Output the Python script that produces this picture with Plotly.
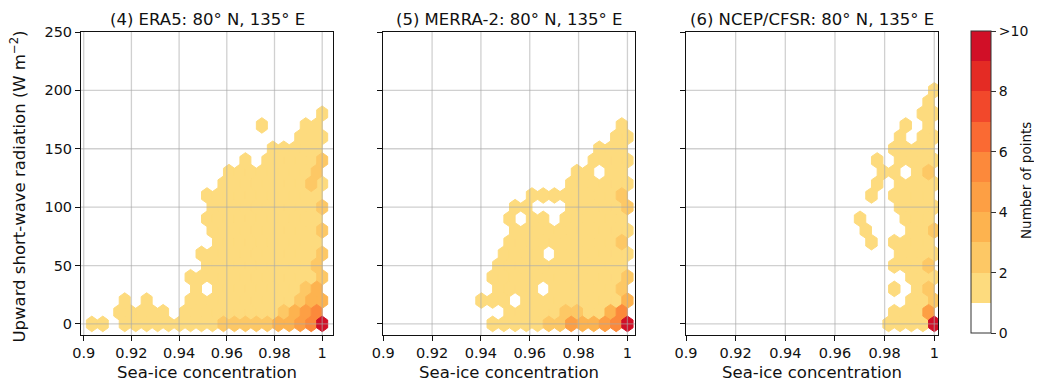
import plotly.graph_objects as go

# ---------------- data ----------------
# hexbin lattice: hex width in sea-ice concentration and lattice period in W m-2
HEX_SX = 0.0046
HEX_SY = 20.0

X_TICKS = [0.9, 0.92, 0.94, 0.96, 0.98, 1.0]
X_TICKTEXT = ["0.9", "0.92", "0.94", "0.96", "0.98", "1"]
Y_TICKS = [0, 50, 100, 150, 200, 250]
CB_TICKS = [0, 2, 4, 6, 8, 10]
CB_TICKTEXT = ["0", "2", "4", "6", "8", ">10"]

PANEL_TITLES = ["(4) ERA5: 80° N, 135° E",
                "(5) MERRA-2: 80° N, 135° E",
                "(6) NCEP/CFSR: 80° N, 135° E"]
X_LABEL = "Sea-ice concentration"
Y_LABEL = "Upward short-wave radiation (W m<sup>−2</sup>)"
CB_LABEL = "Number of points"

# cells: (half-column index k counted leftwards from SIC=1, first row, last row)
# rows are counted in half lattice periods (row r -> r*10 W m-2)
ERA5_COLS = [(0, 0, 18), (1, 1, 17), (2, 0, 16), (3, 1, 17), (4, 0, 16), (5, 1, 15),
             (6, 0, 14), (7, 1, 15), (8, 0, 14), (9, 1, 15), (10, 0, 14), (11, 1, 13),
             (11, 17, 17), (12, 0, 12), (13, 1, 13), (14, 0, 14), (15, 1, 13),
             (16, 0, 12), (17, 1, 13), (18, 0, 12), (19, 1, 11), (20, 0, 10),
             (21, 1, 1), (21, 5, 5), (21, 9, 11), (22, 0, 6), (23, 1, 3), (24, 0, 4),
             (25, 1, 1), (26, 0, 0), (28, 0, 0), (29, 1, 1), (30, 0, 0), (31, 1, 1),
             (32, 0, 2), (33, 1, 1), (34, 0, 0), (35, 1, 1), (36, 0, 2), (37, 1, 1),
             (40, 0, 0), (42, 0, 0)]
ERA5_HOLES = []
ERA5_COUNTS = [(0, 0, 11), (1, 1, 5), (2, 0, 5), (0, 2, 3), (1, 3, 3), (2, 2, 3),
               (3, 1, 4), (4, 0, 4), (4, 2, 2), (5, 1, 3), (6, 0, 3), (8, 0, 3),
               (10, 0, 2), (12, 0, 2), (14, 0, 2), (16, 0, 2), (18, 0, 2), (7, 1, 2),
               (0, 4, 2), (0, 6, 2), (0, 8, 2), (0, 10, 2), (0, 14, 2), (1, 13, 2),
               (2, 12, 2), (1, 5, 2), (3, 3, 2)]

MERRA_COLS = [(0, 0, 16), (1, 1, 17), (2, 0, 16), (3, 1, 15), (4, 0, 14), (5, 1, 15),
              (6, 0, 14), (7, 1, 13), (8, 0, 12), (9, 1, 13), (10, 0, 12), (11, 1, 11),
              (12, 0, 8), (13, 1, 7), (13, 11, 11), (14, 0, 8), (15, 1, 11), (16, 0, 8),
              (17, 1, 11), (18, 0, 10), (19, 1, 7), (20, 0, 0), (20, 4, 10), (21, 1, 9),
              (22, 0, 6), (23, 3, 5), (24, 0, 4), (26, 2, 2)]
MERRA_HOLES = [(5, 13), (15, 3), (14, 6)]
MERRA_COUNTS = [(0, 0, 11), (1, 1, 5), (2, 0, 5), (0, 2, 3), (1, 3, 2), (3, 1, 3),
                (4, 0, 4), (6, 0, 3), (8, 0, 3), (10, 0, 4), (12, 0, 2), (14, 0, 2),
                (9, 1, 2), (11, 1, 2), (0, 4, 2), (1, 7, 2), (0, 10, 2), (1, 11, 2)]

CFSR_COLS = [(0, 0, 20), (1, 1, 19), (2, 0, 18), (3, 1, 15), (4, 0, 14), (5, 1, 17),
             (6, 0, 16), (7, 1, 15), (8, 0, 0), (9, 13, 13), (10, 12, 14),
             (11, 7, 7), (11, 11, 11), (12, 8, 8), (13, 9, 9)]
CFSR_HOLES = [(5, 3), (6, 2), (6, 4), (7, 9), (6, 8), (5, 13)]
CFSR_COUNTS = [(0, 0, 11), (1, 1, 4), (0, 2, 2), (1, 3, 2), (1, 5, 2), (0, 8, 2),
               (1, 13, 2)]

# colour of each count bin 1..9 (9 and more share the last colour)
BIN_COLORS = ["#FDDB7E", "#FDC865", "#FDB34F", "#FD9F44", "#FC893B",
              "#FA6A33", "#F2482B", "#E42B24", "#D10F27"]

PANELS = [(ERA5_COLS, ERA5_HOLES, ERA5_COUNTS),
          (MERRA_COLS, MERRA_HOLES, MERRA_COUNTS),
          (CFSR_COLS, CFSR_HOLES, CFSR_COUNTS)]
X_RANGES = [[0.89887, 1.00453], [0.8999, 1.0031], [0.9, 1.0015]]
Y_RANGE = [-9.5, 250]

# ---------------- figure ----------------
# the page adds an 8 px body margin, so the figure is laid out 8 px up/left
OFF = 8
W, H = 1042 - OFF, 383 - OFF
PL, PR, PT, PB = 81 - OFF, 938 - OFF, 32 - OFF, 335 - OFF   # plot area in figure px
ML, MR, MT, MB = PL, W - PR, PT, H - PB
PW = PR - PL
PH = PB - PT
DOMAINS = [[0, 252 / PW], [(383 - 81) / PW, (635 - 81) / PW], [(686 - 81) / PW, 1.0]]
FONT = "DejaVu Sans"
GRID = "rgba(170,170,170,0.55)"
INK = "#111111"


def build_cells(cols, holes, counts):
    hole_set = set(holes)
    cnt = {(k, r): n for k, r, n in counts}
    out = []
    for k, lo, hi in cols:
        for r in range(lo, hi + 1, 2):
            if (k, r) in hole_set:
                continue
            out.append((1.0 - k * HEX_SX / 2, r * HEX_SY / 2, cnt.get((k, r), 1)))
    return out


def hex_path(cx, cy):
    hw, v, s = HEX_SX / 2, HEX_SY / 3, HEX_SY / 6
    xs = [cx + hw, cx + hw, cx, cx - hw, cx - hw, cx, cx + hw, None]
    ys = [cy - s, cy + s, cy + v, cy + s, cy - s, cy - v, cy - s, None]
    return xs, ys


fig = go.Figure()
for p, (cols, holes, counts) in enumerate(PANELS):
    cells = build_cells(cols, holes, counts)
    ax = "" if p == 0 else str(p + 1)
    for b in range(1, 10):
        sel = [c for c in cells if min(c[2], 9) == b]
        if not sel:
            continue
        xs, ys = [], []
        for cx, cy, _ in sel:
            hx, hy = hex_path(cx, cy)
            xs += hx
            ys += hy
        fig.add_trace(go.Scatter(
            x=xs, y=ys, mode="lines", fill="toself",
            fillcolor=BIN_COLORS[b - 1],
            line=dict(color=BIN_COLORS[b - 1], width=1),
            xaxis="x" + ax, yaxis="y" + ax, hoverinfo="skip", showlegend=False))

# colour bar (discrete)
colors = ["#FFFFFF"] + BIN_COLORS
cs = []
for i, c in enumerate(colors):
    cs += [[i / 10, c], [(i + 1) / 10, c]]
fig.add_trace(go.Scatter(
    x=[0.95], y=[1000], mode="markers",
    marker=dict(color=[0], cmin=0, cmax=10, colorscale=cs, opacity=0, showscale=True,
                colorbar=dict(
                    thickness=20, thicknessmode="pixels", len=302, lenmode="pixels",
                    x=(970.5 - 81) / PW, xanchor="left", xpad=0,
                    y=1 + 1 / PH, yanchor="top", ypad=0,
                    outlinecolor="#333333", outlinewidth=1,
                    tickvals=CB_TICKS, ticktext=CB_TICKTEXT, ticks="outside",
                    ticklen=5, tickwidth=1, tickcolor="#333333",
                    tickfont=dict(family=FONT, size=14, color=INK))),
    showlegend=False, hoverinfo="skip"))

layout = dict(width=W, height=H, margin=dict(l=ML, r=MR, t=MT, b=MB, autoexpand=False),
              plot_bgcolor="white", paper_bgcolor="white",
              font=dict(family=FONT, size=14, color=INK), showlegend=False)
shapes = []
annotations = []
for p in range(3):
    ax = "" if p == 0 else str(p + 1)
    layout["xaxis" + ax] = dict(
        domain=DOMAINS[p], range=X_RANGES[p], anchor="y" + ax, automargin=False,
        tickvals=X_TICKS, ticktext=X_TICKTEXT, ticks="outside", ticklen=5,
        tickwidth=1, tickcolor=INK, showgrid=False, zeroline=False,
        showline=True, linecolor=INK, linewidth=1, mirror=True,
        tickfont=dict(family=FONT, size=14.5, color=INK))
    layout["yaxis" + ax] = dict(
        domain=[0, 1], range=Y_RANGE, anchor="x" + ax, automargin=False,
        tickvals=Y_TICKS, ticks="outside", ticklen=5, tickwidth=1, tickcolor=INK,
        showgrid=False, zeroline=False, showline=True, linecolor=INK,
        linewidth=1, mirror=True, showticklabels=(p == 0),
        tickfont=dict(family=FONT, size=14.5, color=INK))
    lo, hi = X_RANGES[p]
    for xv in X_TICKS:
        if lo + 0.001 < xv < hi - 0.001:
            shapes.append(dict(type="line", xref="x" + ax, yref="y" + ax + " domain",
                               x0=xv, x1=xv, y0=0, y1=1, layer="above",
                               line=dict(color=GRID, width=1.3)))
    for yv in Y_TICKS:
        if Y_RANGE[0] + 1 < yv < Y_RANGE[1] - 1:
            shapes.append(dict(type="line", xref="x" + ax + " domain", yref="y" + ax,
                               x0=0, x1=1, y0=yv, y1=yv, layer="above",
                               line=dict(color=GRID, width=1.3)))
    annotations.append(dict(text=PANEL_TITLES[p], xref="x" + ax + " domain", x=0.5,
                            yref="paper", y=1, yanchor="middle", xanchor="center",
                            yshift=13, showarrow=False,
                            font=dict(family=FONT, size=16.5, color=INK)))
    annotations.append(dict(text=X_LABEL, xref="x" + ax + " domain", x=0.5,
                            yref="paper", y=0, yanchor="middle", xanchor="center",
                            yshift=-37, showarrow=False,
                            font=dict(family=FONT, size=16.5, color=INK)))
annotations.append(dict(text=Y_LABEL, textangle=-90, xref="paper",
                        x=(18 - 81) / PW, xanchor="center", yref="paper", y=0.49,
                        yanchor="middle", showarrow=False,
                        font=dict(family=FONT, size=16.5, color=INK)))
annotations.append(dict(text=CB_LABEL, textangle=-90, xref="paper",
                        x=(1026 - 81) / PW, xanchor="center", yref="paper",
                        y=(335 - 181) / PH, yanchor="middle", showarrow=False,
                        font=dict(family=FONT, size=13.5, color=INK)))
layout["shapes"] = shapes
layout["annotations"] = annotations
fig.update_layout(**layout)

fig.write_html("out.html")
